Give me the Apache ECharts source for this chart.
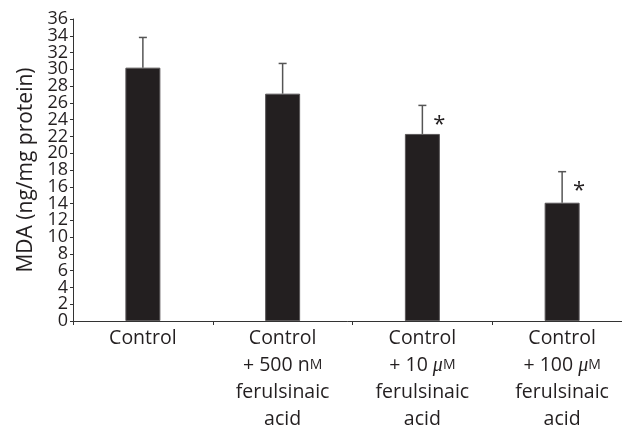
<!DOCTYPE html>
<html>
<head>
<meta charset="utf-8">
<script src="https://cdn.jsdelivr.net/npm/echarts@6/dist/echarts.min.js"></script>
<style>
  html, body { margin: 0; padding: 0; background: #fff; }
  #chart { width: 622px; height: 427px; }
</style>
</head>
<body>
<div id="chart"></div>
<script>
// Treatment groups (rich-text markup for the unit suffixes)
const categories = [
  'Control',
  'Control\n+ 500 n{sc|M}\nferulsinaic\nacid',
  'Control\n+ 10 {mu|μ}{sc|M}\nferulsinaic\nacid',
  'Control\n+ 100 {mu|μ}{sc|M}\nferulsinaic\nacid'
];
// Mean MDA level and its error (ng/mg protein)
const meanValues = [30.2, 27.1, 22.3, 14.1];
const errorValues = [3.6, 3.6, 3.4, 3.7];
// Significance markers
const significant = [false, false, true, true];
// Y tick labels, split over two label rows so the dense ticks all stay visible
const yMin = 0, yMax = 36, yStep = 2;
const yLabelsA = [0, 4, 8, 12, 16, 20, 24, 28, 32, 36];
const yLabelsB = [2, 6, 10, 14, 18, 22, 26, 30, 34];

const FONT = '"Open Sans", "Noto Sans", sans-serif';
const TEXT = '#231f20';
const chart = echarts.init(document.getElementById('chart'));

const errorData = meanValues.map((v, i) => [i, v, v + errorValues[i], significant[i] ? 1 : 0]);

const yLabelStyle = { margin: 5, color: TEXT, fontFamily: FONT, fontSize: 18 };

chart.setOption({
  animation: false,
  backgroundColor: '#fff',
  grid: { left: 73, right: -10, top: 19, bottom: 106, containLabel: false, outerBoundsMode: 'none' },
  xAxis: {
    type: 'category',
    data: categories,
    axisLine: { lineStyle: { color: '#333', width: 1 } },
    axisTick: { show: true, length: 4, inside: false, lineStyle: { color: '#333' } },
    axisLabel: {
      interval: 0,
      margin: 4,
      color: TEXT,
      fontFamily: FONT,
      fontSize: 19.5,
      lineHeight: 27,
      align: 'center',
      rich: {
        sc: { fontSize: 14, fontFamily: FONT, color: TEXT, lineHeight: 27 },
        mu: { fontSize: 20, fontStyle: 'italic', fontFamily: '"Liberation Serif", serif', color: TEXT, lineHeight: 27 }
      }
    }
  },
  yAxis: [
    {
      type: 'value',
      position: 'left',
      min: yMin,
      max: yMax,
      interval: yStep,
      name: 'MDA (ng/mg protein)',
      nameLocation: 'middle',
      nameGap: 35,
      nameTextStyle: { fontFamily: FONT, fontSize: 21, color: TEXT },
      axisLine: { show: true, lineStyle: { color: '#333', width: 1 } },
      axisTick: { show: true, length: 3, lineStyle: { color: '#333' } },
      splitLine: { show: false },
      axisLabel: Object.assign({ customValues: yLabelsA }, yLabelStyle)
    },
    {
      type: 'value',
      position: 'left',
      min: yMin,
      max: yMax,
      interval: yStep,
      axisLine: { show: false },
      axisTick: { show: false },
      splitLine: { show: false },
      axisLabel: Object.assign({ customValues: yLabelsB }, yLabelStyle)
    }
  ],
  series: [
    {
      type: 'bar',
      yAxisIndex: 0,
      data: meanValues,
      barWidth: 35,
      itemStyle: { color: TEXT, borderColor: '#5a5758', borderWidth: 1 },
      z: 2
    },
    {
      type: 'custom',
      yAxisIndex: 0,
      data: errorData,
      z: 3,
      renderItem: function (params, api) {
        const i = api.value(0);
        const base = api.coord([i, api.value(1)]);
        const top = api.coord([i, api.value(2)]);
        const cap = 4;
        const children = [
          { type: 'line', shape: { x1: base[0], y1: base[1], x2: top[0], y2: top[1] },
            style: { stroke: '#555', lineWidth: 1.5 } },
          { type: 'line', shape: { x1: top[0] - cap, y1: top[1], x2: top[0] + cap, y2: top[1] },
            style: { stroke: '#555', lineWidth: 1.5 } }
        ];
        if (api.value(3)) {
          children.push({
            type: 'text',
            style: {
              text: '*', x: top[0] + 17, y: top[1] + 19,
              fill: TEXT, font: '22px ' + FONT,
              textAlign: 'center', textVerticalAlign: 'middle'
            }
          });
        }
        return { type: 'group', children: children };
      }
    }
  ]
});
</script>
</body>
</html>
